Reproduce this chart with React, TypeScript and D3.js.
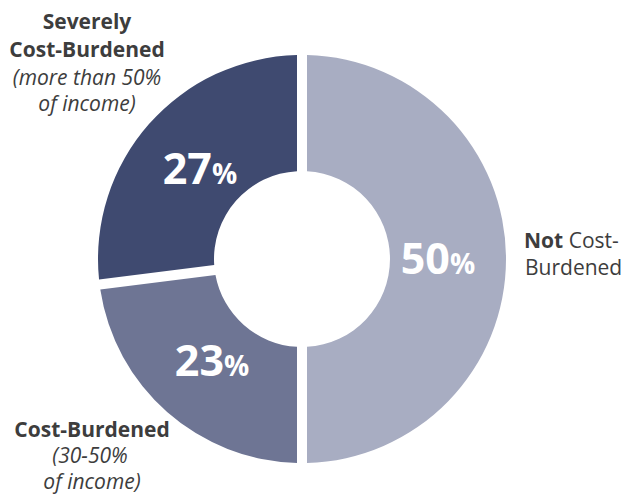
import React from "react";
import * as d3 from "d3";

const categories = ["Not Cost-Burdened", "Cost-Burdened", "Severely Cost-Burdened"];
const values = [50, 23, 27];
const colors = ["#a8adc2", "#6e7594", "#3f4a70"];

const W = 623;
const H = 496;
const cx = 302;
const cy = 259;
const outerR = 204;
const innerR = 88;
const gap = 10;
const labelR = 136;
const font = "'Open Sans', 'Noto Sans', sans-serif";
const textColor = "#3d3d3d";

export default function App() {
  const pie = d3.pie<number>().sort(null).value((d) => d);
  const arcs = pie(values);
  const arc = d3
    .arc<d3.PieArcDatum<number>>()
    .innerRadius(innerR)
    .outerRadius(outerR)
    .padAngle(gap / outerR)
    .padRadius(outerR);

  return (
    <svg
      width={W}
      height={H}
      style={{ position: "absolute", left: 0, top: 0, fontFamily: font }}
    >
      <g transform={`translate(${cx},${cy})`}>
        {arcs.map((a, i) => (
          <path key={categories[i]} d={arc(a) || ""} fill={colors[i]} />
        ))}
        {arcs.map((a, i) => {
          const mid = (a.startAngle + a.endAngle) / 2;
          const x = Math.sin(mid) * labelR;
          const y = -Math.cos(mid) * labelR;
          return (
            <text
              key={"l" + i}
              x={x}
              y={y + 15}
              textAnchor="middle"
              fill="#ffffff"
              fontWeight={700}
            >
              <tspan fontSize={43}>{values[i]}</tspan>
              <tspan fontSize={28}>%</tspan>
            </text>
          );
        })}
      </g>
      <g fill={textColor} fontSize={21}>
        <text x={87} y={29} textAnchor="middle" fontWeight={700}>Severely</text>
        <text x={87} y={57} textAnchor="middle" fontWeight={700}>Cost-Burdened</text>
        <text x={87} y={85} textAnchor="middle" fontStyle="italic">(more than 50%</text>
        <text x={87} y={111} textAnchor="middle" fontStyle="italic">of income)</text>

        <text x={92} y={437} textAnchor="middle" fontWeight={700}>Cost-Burdened</text>
        <text x={90} y={463} textAnchor="middle" fontStyle="italic">(30-50%</text>
        <text x={92} y={489} textAnchor="middle" fontStyle="italic">of income)</text>

        <text x={524} y={248}>
          <tspan fontWeight={700}>Not</tspan>
          <tspan> Cost-</tspan>
        </text>
        <text x={525} y={275}>Burdened</text>
      </g>
    </svg>
  );
}
